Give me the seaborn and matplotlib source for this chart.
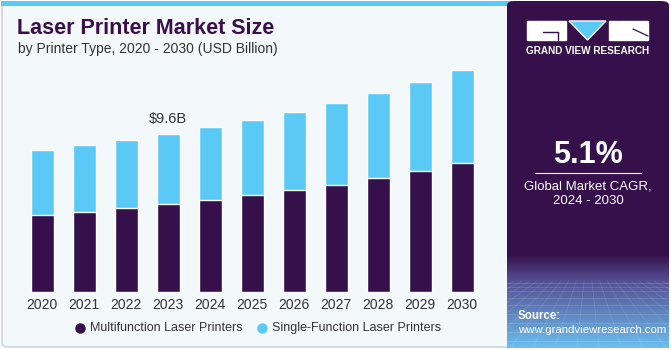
import numpy as np
import matplotlib
matplotlib.use("Agg")
import matplotlib.pyplot as plt
import seaborn as sns
from matplotlib.patches import FancyBboxPatch, Rectangle, Polygon
from matplotlib.lines import Line2D

years = ["2020", "2021", "2022", "2023", "2024", "2025",
         "2026", "2027", "2028", "2029", "2030"]
multifunction = [4.68, 4.86, 5.09, 5.33, 5.57, 5.87, 6.20, 6.52, 6.93, 7.35, 7.82]
single_function = [3.95, 4.05, 4.14, 4.27, 4.44, 4.58, 4.74, 4.96, 5.16, 5.41, 5.69]
totals = [m + s for m, s in zip(multifunction, single_function)]
highlight_year = "2023"
highlight_label = "$9.6B"

dark = "#35104A"
light = "#5BC9F5"
bg = "#F3F8FB"

W, H = 671, 350

def fx(px):
    return px / W

def fy(py):
    return 1 - py / H

sns.set_style("white")
plt.rcParams["font.family"] = ["Liberation Sans", "DejaVu Sans"]

fig = plt.figure(figsize=(6.71, 3.5), dpi=100)
fig.patch.set_facecolor("white")

# main panel
fig.patches.append(FancyBboxPatch((fx(2), fy(347)), fx(520), fy(2) - fy(347),
                                  boxstyle="round,pad=0,rounding_size=0.01",
                                  transform=fig.transFigure, facecolor=bg,
                                  edgecolor="#C8CCD0", linewidth=1.0, zorder=0))
fig.patches.append(Rectangle((fx(1), fy(6)), fx(520), fy(1) - fy(6),
                             transform=fig.transFigure, facecolor=light,
                             edgecolor="none", zorder=1))

# right panel
fig.patches.append(FancyBboxPatch((fx(507), fy(348)), fx(162), fy(1) - fy(348),
                                  boxstyle="round,pad=0,rounding_size=0.012",
                                  transform=fig.transFigure, facecolor=dark,
                                  edgecolor="none", zorder=2))

# gradient + grid at the bottom of the right panel
gax = fig.add_axes([fx(507), fy(348), fx(162), fy(255) - fy(348)], zorder=3)
t = np.linspace(0, 1, 200)  # 0 = bottom, 1 = top
c_top = np.array([0x35, 0x10, 0x4A]) / 255
c_mid = np.array([0x55, 0x4E, 0x92]) / 255
c_bot = np.array([0x6C, 0xBE, 0xEE]) / 255
img = np.zeros((200, 2, 3))
for i, tv in enumerate(t):
    if tv > 0.72:
        s = (tv - 0.72) / 0.28
        col = c_mid * (1 - s) + c_top * s
    else:
        s = tv / 0.72
        col = c_bot * (1 - s) + c_mid * s
    img[i, :, :] = col
gax.imshow(img, aspect="auto", extent=[0, 1, 0, 1], origin="lower")
for v in [0.0, 0.08, 0.17, 0.27, 0.37, 0.46, 0.54, 0.61, 0.66, 0.7]:
    gax.axhline(v, color="white", alpha=0.18, lw=0.5)
for u in np.linspace(-1.5, 2.5, 30):
    gax.plot([0.5 + (u - 0.5) * 0.35, u], [0.72, 0], color="white", alpha=0.15, lw=0.5)
gax.set_xlim(0, 1)
gax.set_ylim(0, 1)
gax.axis("off")

# logo
fig.patches.append(Rectangle((fx(527), fy(40)), fx(39), fy(21) - fy(40),
                             transform=fig.transFigure, facecolor="white", zorder=4))
fig.lines.append(Line2D([fx(543), fx(558)], [fy(32), fy(32)], transform=fig.transFigure,
                        color=dark, lw=1.0, zorder=5))
fig.lines.append(Line2D([fx(558), fx(558)], [fy(32), fy(40)], transform=fig.transFigure,
                        color=dark, lw=1.0, zorder=5))
fig.patches.append(Polygon([(fx(569), fy(21)), (fx(606), fy(21)), (fx(587.5), fy(40))],
                           closed=True, transform=fig.transFigure,
                           facecolor=light, zorder=4))
fig.patches.append(Rectangle((fx(609), fy(40)), fx(39), fy(21) - fy(40),
                             transform=fig.transFigure, facecolor="white", zorder=4))
fig.lines.append(Line2D([fx(633), fx(648)], [fy(29), fy(36)], transform=fig.transFigure,
                        color=dark, lw=0.9, zorder=5))
fig.text(fx(587.5), fy(51), "GRAND VIEW RESEARCH", color="white", fontsize=7.2,
         fontweight="bold", ha="center", va="center", zorder=6)

fig.text(fx(588), fy(155), "5.1%", color="white", fontsize=22, fontweight="bold",
         ha="center", va="center", zorder=6)
fig.lines.append(Line2D([fx(535), fx(641)], [fy(173), fy(173)], transform=fig.transFigure,
                        color="white", lw=0.8, zorder=6))
fig.text(fx(588), fy(186), "Global Market CAGR,", color="white", fontsize=9.5,
         ha="center", va="center", zorder=6)
fig.text(fx(588), fy(201), "2024 - 2030", color="white", fontsize=9.5,
         ha="center", va="center", zorder=6)
fig.text(fx(518), fy(316), "Source:", color="white", fontsize=8.3, fontweight="bold",
         ha="left", va="center", zorder=6)
fig.text(fx(518), fy(330), "www.grandviewresearch.com", color="white", fontsize=8.2,
         ha="left", va="center", zorder=6)

# titles
fig.text(fx(17), fy(28), "Laser Printer Market Size", color="#3A0F4B", fontsize=15.5,
         fontweight="heavy", ha="left", va="center")
fig.text(fx(18), fy(49), "by Printer Type, 2020 - 2030 (USD Billion)", color="#333333",
         fontsize=10, ha="left", va="center")

# chart
ax = fig.add_axes([fx(21.3), fy(292), fx(462), fy(60) - fy(292)], zorder=2)
ax.set_facecolor("none")
sns.barplot(x=years, y=totals, color=light, width=0.55, saturation=1, ax=ax)
sns.barplot(x=years, y=multifunction, color=dark, width=0.55, saturation=1, ax=ax)
ax.set_xlim(-0.5, 10.5)
ax.set_ylim(0, (292 - 60) / 16.46)
ax.set_yticks([])
ax.set_xlabel("")
ax.set_ylabel("")
ax.tick_params(axis="x", length=0, labelsize=10, labelcolor="#333333", pad=4)
sns.despine(ax=ax, left=True, bottom=True)

hi = years.index(highlight_year)
ax.text(hi, totals[hi] + 0.5, highlight_label, ha="center", va="bottom",
        fontsize=10.5, color="#333333")

# legend
fig.lines.append(Line2D([fx(80)], [fy(328)], transform=fig.transFigure, marker="o",
                        markersize=6.5, color=dark, linestyle="none"))
fig.text(fx(90), fy(328), "Multifunction Laser Printers", fontsize=9,
         color="#333333", ha="left", va="center")
fig.lines.append(Line2D([fx(262)], [fy(328)], transform=fig.transFigure, marker="o",
                        markersize=6.5, color=light, linestyle="none"))
fig.text(fx(272), fy(328), "Single-Function Laser Printers", fontsize=9,
         color="#333333", ha="left", va="center")

fig.savefig("out.png", dpi=100, facecolor="white")
